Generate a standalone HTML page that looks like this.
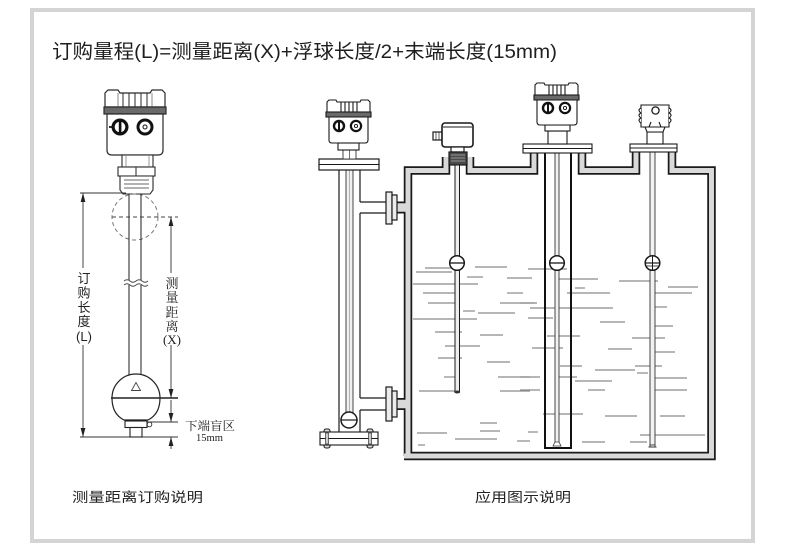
<!DOCTYPE html>
<html><head><meta charset="utf-8">
<style>
html,body{margin:0;padding:0;background:#fff;}
svg{display:block;}
.sans{font-family:"Liberation Sans","Noto Sans CJK SC",sans-serif;}
.serif{font-family:"Liberation Serif","Noto Serif CJK SC",serif;}
</style></head>
<body>
<svg width="790" height="553" viewBox="0 0 790 553" xmlns="http://www.w3.org/2000/svg">
<rect x="0" y="0" width="790" height="553" fill="#fff"/>
<!-- frame -->
<rect x="32" y="10" width="721" height="531" fill="#fff" stroke="#d4d4d4" stroke-width="4"/>

<!-- title -->
<text x="52" y="58" class="sans" font-size="19.5" fill="#1e1e1e" textLength="505" lengthAdjust="spacingAndGlyphs">订购量程(L)=测量距离(X)+浮球长度/2+末端长度(15mm)</text>

<!-- captions -->
<text x="72" y="502" class="sans" font-size="13.5" fill="#222" textLength="131" lengthAdjust="spacingAndGlyphs">测量距离订购说明</text>
<text x="475" y="502" class="sans" font-size="13.5" fill="#222" textLength="96" lengthAdjust="spacingAndGlyphs">应用图示说明</text>

<!-- ================= LEFT DIAGRAM ================= -->
<g stroke="#2a2a2a" fill="none" stroke-width="1">
  <!-- cap -->
  <path d="M105,107 L105,93 L108,90 L118,90 L120,93 L150,93 L152,90 L162,90 L165,93 L165,107 Z" fill="#fff" stroke-width="1.2"/>
  <line x1="123" y1="93" x2="123" y2="107"/>
  <line x1="129" y1="93" x2="129" y2="107"/>
  <line x1="135" y1="93" x2="135" y2="107"/>
  <line x1="141" y1="93" x2="141" y2="107"/>
  <line x1="147" y1="93" x2="147" y2="107"/>
  <line x1="118" y1="93" x2="118" y2="107" stroke="#888"/>
  <line x1="152" y1="93" x2="152" y2="107" stroke="#888"/>
  <!-- band -->
  <rect x="104" y="107" width="62" height="7" fill="#6a6a6a" stroke-width="1.2"/>
  <!-- body -->
  <path d="M107,114 L163,114 L163,150 Q163,155 158,155 L112,155 Q107,155 107,150 Z" fill="#fff" stroke-width="1.2"/>
  <rect x="109" y="126" width="4" height="2" fill="#333" stroke="none"/>
  <!-- knobs -->
  <circle cx="120" cy="127" r="8.5" fill="#111" stroke="none"/>
  <circle cx="120" cy="127" r="5.3" fill="#fff" stroke="none"/>
  <rect x="118.8" y="121.5" width="2.6" height="11" fill="#111" stroke="none"/>
  <circle cx="145" cy="127" r="8.5" fill="#111" stroke="none"/>
  <circle cx="145" cy="127" r="5.5" fill="#fff" stroke="none"/>
  <circle cx="145" cy="127" r="2" stroke="#111" stroke-width="1"/>
  <!-- neck -->
  <rect x="122" y="155" width="31" height="12" fill="#fff" stroke-width="1.1"/>
  <line x1="126" y1="156" x2="126" y2="166" stroke="#999"/>
  <line x1="149" y1="156" x2="149" y2="166" stroke="#999"/>
  <!-- nut -->
  <rect x="118" y="167" width="37" height="9" fill="#fff" stroke-width="1.1"/>
  <line x1="136" y1="167" x2="136" y2="176"/>
  <!-- thread -->
  <path d="M120,176 L153,176 L153,190 L150,194 L123,194 L120,190 Z" fill="#fff" stroke-width="1.1"/>
  <line x1="124" y1="180" x2="149" y2="180" stroke="#666"/>
  <line x1="124" y1="184" x2="149" y2="184" stroke="#666"/>
  <line x1="124" y1="188" x2="149" y2="188" stroke="#666"/>
</g>

<!-- dashed circle -->
<circle cx="135" cy="217" r="23" fill="none" stroke="#777" stroke-width="1" stroke-dasharray="4 3"/>
<line x1="112" y1="217" x2="178" y2="217" stroke="#444" stroke-width="1" stroke-dasharray="4 3"/>

<!-- rod -->
<g stroke="#333" stroke-width="1.1">
  <line x1="129" y1="194" x2="129" y2="376"/>
  <line x1="141" y1="194" x2="141" y2="376"/>
</g>
<rect x="126" y="280" width="18" height="5" fill="#fff"/>
<path d="M124,281 q3,-2.5 6,0 t6,0 t6,0 t6,0" fill="none" stroke="#444" stroke-width="0.9"/>
<path d="M124,285 q3,-2.5 6,0 t6,0 t6,0 t6,0" fill="none" stroke="#444" stroke-width="0.9"/>

<!-- reference lines -->
<g stroke="#333" stroke-width="0.9">
  <line x1="80" y1="193" x2="126" y2="193"/>
  <line x1="83" y1="193" x2="83" y2="437"/>
  <line x1="171" y1="217" x2="171" y2="398"/>
  <line x1="171" y1="400" x2="171" y2="422"/>
  <line x1="171" y1="437" x2="171" y2="449"/>
  <line x1="147" y1="422" x2="178" y2="422"/>
  <line x1="80" y1="437" x2="178" y2="437"/>
</g>
<!-- arrowheads -->
<g fill="#222">
  <polygon points="83,193 80.6,202 85.4,202"/>
  <polygon points="83,437 80.6,428 85.4,428"/>
  <polygon points="171,217 168.6,226 173.4,226"/>
  <polygon points="171,398 168.6,389 173.4,389"/>
  <polygon points="171,422 168.6,413 173.4,413"/>
  <polygon points="171,437 168.6,446 173.4,446"/>
</g>

<!-- vertical labels -->
<rect x="75" y="268" width="17" height="77" fill="#fff"/>
<g class="sans" font-size="13" fill="#222" text-anchor="middle">
  <text x="84" y="283">订</text>
  <text x="84" y="297.5">购</text>
  <text x="84" y="312">长</text>
  <text x="84" y="326">度</text>
  <text x="84" y="341">(L)</text>
</g>
<rect x="163" y="273" width="17" height="72" fill="#fff"/>
<g class="serif" font-size="13" fill="#222" text-anchor="middle">
  <text x="172" y="288">测</text>
  <text x="172" y="302">量</text>
  <text x="172" y="317">距</text>
  <text x="172" y="331">离</text>
  <text x="172" y="344">(X)</text>
</g>

<!-- ball -->
<path d="M112,398 A24,24 0 0 1 160,398 Q160,414 148,420 L124,420 Q112,414 112,398 Z" fill="#fff" stroke="#222" stroke-width="1.2"/>
<line x1="111" y1="398" x2="178" y2="398" stroke="#222" stroke-width="1.6"/>
<polygon points="136,382.5 131.5,390.5 140.5,390.5" fill="none" stroke="#444" stroke-width="0.9"/>
<rect x="125" y="421" width="22" height="6.5" fill="#fff" stroke="#222" stroke-width="1.1"/>
<circle cx="149.5" cy="424.5" r="2.3" fill="#fff" stroke="#333" stroke-width="0.9"/>
<rect x="130" y="427.5" width="12" height="9.5" fill="#fff" stroke="#222" stroke-width="1.1"/>

<text x="185" y="430" class="serif" font-size="12" fill="#222" textLength="50" lengthAdjust="spacingAndGlyphs">下端盲区</text>
<text x="196" y="441" class="serif" font-size="10.5" fill="#222" textLength="27" lengthAdjust="spacingAndGlyphs">15mm</text>

<!-- ================= RIGHT DIAGRAM ================= -->
<!-- liquid lines -->
<g stroke="#8a8a8a" stroke-width="1.2">
  <line x1="425" y1="268" x2="452" y2="268"/><line x1="416" y1="272" x2="452" y2="272"/>
  <line x1="475" y1="267" x2="507" y2="267"/><line x1="467" y1="277" x2="483" y2="277"/>
  <line x1="528" y1="269" x2="567" y2="269"/><line x1="507" y1="278" x2="532" y2="278"/>
  <line x1="413" y1="284" x2="478" y2="284"/><line x1="423" y1="293" x2="460" y2="293"/>
  <line x1="507" y1="293" x2="523" y2="293"/><line x1="428" y1="303" x2="455" y2="303"/>
  <line x1="500" y1="303" x2="535" y2="303"/><line x1="463" y1="311" x2="475" y2="311"/>
  <line x1="478" y1="313" x2="515" y2="313"/><line x1="413" y1="319" x2="477" y2="319"/>
  <line x1="435" y1="332" x2="462" y2="332"/><line x1="480" y1="335" x2="503" y2="335"/>
  <line x1="445" y1="346" x2="480" y2="346"/><line x1="438" y1="358" x2="462" y2="358"/>
  <line x1="487" y1="362" x2="510" y2="362"/><line x1="444" y1="377" x2="460" y2="377"/>
  <line x1="498" y1="377" x2="530" y2="377"/><line x1="419" y1="391" x2="457" y2="391"/>
  <line x1="500" y1="391" x2="530" y2="391"/><line x1="480" y1="423" x2="497" y2="423"/>
  <line x1="480" y1="431" x2="500" y2="431"/><line x1="417" y1="433" x2="447" y2="433"/>
  <line x1="455" y1="439" x2="497" y2="439"/><line x1="517" y1="441" x2="530" y2="441"/>
  <line x1="418" y1="445" x2="425" y2="445"/>
  <line x1="559" y1="279" x2="598" y2="279"/><line x1="575" y1="288" x2="585" y2="288"/>
  <line x1="567" y1="293" x2="610" y2="293"/><line x1="619" y1="281" x2="658" y2="281"/>
  <line x1="668" y1="287" x2="698" y2="287"/><line x1="650" y1="293" x2="692" y2="293"/>
  <line x1="520" y1="303" x2="537" y2="303"/><line x1="530" y1="308" x2="613" y2="308"/>
  <line x1="653" y1="307" x2="667" y2="307"/><line x1="528" y1="318" x2="553" y2="318"/>
  <line x1="600" y1="322" x2="625" y2="322"/><line x1="650" y1="326" x2="673" y2="326"/>
  <line x1="547" y1="336" x2="580" y2="336"/><line x1="632" y1="338" x2="665" y2="338"/>
  <line x1="532" y1="348" x2="563" y2="348"/><line x1="608" y1="349" x2="632" y2="349"/>
  <line x1="650" y1="352" x2="675" y2="352"/><line x1="560" y1="366" x2="582" y2="366"/>
  <line x1="595" y1="370" x2="635" y2="370"/><line x1="635" y1="366" x2="662" y2="366"/>
  <line x1="637" y1="373" x2="648" y2="373"/><line x1="520" y1="377" x2="540" y2="377"/>
  <line x1="558" y1="377" x2="577" y2="377"/><line x1="575" y1="381" x2="612" y2="381"/>
  <line x1="652" y1="378" x2="687" y2="378"/><line x1="520" y1="390" x2="540" y2="390"/>
  <line x1="588" y1="390" x2="605" y2="390"/><line x1="652" y1="390" x2="687" y2="390"/>
  <line x1="543" y1="414" x2="583" y2="414"/><line x1="605" y1="416" x2="637" y2="416"/>
  <line x1="660" y1="416" x2="685" y2="416"/><line x1="528" y1="432" x2="538" y2="432"/>
  <line x1="640" y1="435" x2="705" y2="435"/><line x1="582" y1="442" x2="605" y2="442"/>
  <line x1="630" y1="442" x2="647" y2="442"/>
</g>

<!-- tank wall: black outline then gray interior -->
<g fill="none" stroke-linejoin="miter" stroke-linecap="butt">
  <path d="M408,456 L408,170.5 L446,170.5 L446,157" stroke="#1a1a1a" stroke-width="8.5"/>
  <path d="M470,157 L470,170.5 L534,170.5 L534,152" stroke="#1a1a1a" stroke-width="8.5"/>
  <path d="M582,152 L582,170.5 L636,170.5 L636,152" stroke="#1a1a1a" stroke-width="8.5"/>
  <path d="M672,152 L672,170.5 L711.5,170.5 L711.5,456 L404,456" stroke="#1a1a1a" stroke-width="8.5"/>
  <line x1="396" y1="207.5" x2="410" y2="207.5" stroke="#1a1a1a" stroke-width="12"/>
  <line x1="396" y1="404" x2="410" y2="404" stroke="#1a1a1a" stroke-width="12"/>

  <path d="M408,456 L408,170.5 L446,170.5 L446,157" stroke="#d9d9d9" stroke-width="5"/>
  <path d="M470,157 L470,170.5 L534,170.5 L534,152" stroke="#d9d9d9" stroke-width="5"/>
  <path d="M582,152 L582,170.5 L636,170.5 L636,152" stroke="#d9d9d9" stroke-width="5"/>
  <path d="M672,152 L672,170.5 L711.5,170.5 L711.5,456 L404,456" stroke="#d9d9d9" stroke-width="5"/>
  <line x1="396" y1="207.5" x2="409" y2="207.5" stroke="#d9d9d9" stroke-width="8.5"/>
  <line x1="396" y1="404" x2="409" y2="404" stroke="#d9d9d9" stroke-width="8.5"/>
</g>

<!-- bypass chamber -->
<g stroke="#1a1a1a" stroke-width="1.2" fill="#fff">
  <!-- pipes to flange -->
  <path d="M360,202 L386,202 M360,213 L386,213" fill="none"/>
  <path d="M360,398 L386,398 M360,410 L386,410" fill="none"/>
  <!-- tube -->
  <line x1="339" y1="170" x2="339" y2="432"/>
  <path d="M360,170 L360,202 M360,213 L360,398 M360,410 L360,432" fill="none"/>
  <!-- flanges at connections -->
  <rect x="386" y="192" width="6" height="32" fill="#ececec"/>
  <rect x="392" y="195" width="5" height="25" fill="#ececec"/>
  <rect x="386" y="387" width="6" height="34" fill="#ececec"/>
  <rect x="392" y="391" width="5" height="26" fill="#ececec"/>
</g>
<!-- inner rod -->
<rect x="346" y="150" width="7" height="263" fill="#f0f0f0" stroke="#333" stroke-width="0.9"/>
<line x1="349.5" y1="150" x2="349.5" y2="412" stroke="#999" stroke-width="0.7"/>
<circle cx="349" cy="420" r="8" fill="#fff" stroke="#1a1a1a" stroke-width="1.5"/>
<line x1="341" y1="420" x2="357" y2="420" stroke="#1a1a1a" stroke-width="1.2"/>
<!-- bottom flange -->
<g stroke="#1a1a1a" stroke-width="1.1">
  <rect x="324" y="429" width="6" height="19" rx="2" fill="#ddd"/>
  <rect x="367" y="429" width="6" height="19" rx="2" fill="#ddd"/>
  <rect x="320" y="432" width="58" height="13" fill="#fff"/>
  <line x1="320" y1="438.5" x2="378" y2="438.5"/>
  <rect x="325.5" y="433" width="3" height="11" fill="#ccc" stroke-width="0.6"/>
  <rect x="368.5" y="433" width="3" height="11" fill="#ccc" stroke-width="0.6"/>
</g>
<!-- top flange -->
<rect x="319" y="159" width="60" height="11" fill="#fff" stroke="#1a1a1a" stroke-width="1.2"/>
<line x1="319" y1="164.5" x2="379" y2="164.5" stroke="#1a1a1a" stroke-width="1"/>
<rect x="343" y="150" width="13" height="9" fill="#fff" stroke="#333" stroke-width="0.9"/>
<line x1="349.5" y1="150" x2="349.5" y2="159" stroke="#333" stroke-width="0.7"/>

<!-- instrument 1 head -->
<g stroke="#1a1a1a" stroke-width="1.1">
  <path d="M327,112 L327,102 L329,100 L336,100 L337,102 L360,102 L361,100 L368,100 L370,102 L370,112 Z" fill="#fff"/>
  <line x1="341" y1="102" x2="341" y2="112"/><line x1="345" y1="102" x2="345" y2="112"/>
  <line x1="349" y1="102" x2="349" y2="112"/><line x1="353" y1="102" x2="353" y2="112"/>
  <line x1="357" y1="102" x2="357" y2="112"/>
  <rect x="326" y="112" width="45" height="5" fill="#6a6a6a"/>
  <path d="M329,117 L368,117 L368,140 Q368,143 365,143 L332,143 Q329,143 329,140 Z" fill="#fff"/>
  <rect x="338" y="143" width="21" height="7" fill="#fff"/>
</g>
<circle cx="339" cy="126" r="6.2" fill="#111"/><circle cx="339" cy="126" r="3.8" fill="#fff"/>
<rect x="338" y="122" width="2" height="8" fill="#111"/>
<circle cx="356" cy="126" r="6.2" fill="#111"/><circle cx="356" cy="126" r="4" fill="#fff"/>
<circle cx="356" cy="126" r="1.6" fill="none" stroke="#111" stroke-width="0.9"/>

<!-- instrument 2 float switch -->
<g stroke="#1a1a1a" stroke-width="1.2">
  <rect x="433" y="132" width="9" height="8" fill="#fff"/>
  <line x1="436" y1="132" x2="436" y2="140" stroke-width="0.7"/>
  <line x1="439" y1="132" x2="439" y2="140" stroke-width="0.7"/>
  <rect x="442" y="123" width="31" height="24" rx="3" fill="#fff" stroke-width="1.6"/>
  <line x1="443" y1="127" x2="472" y2="127" stroke-width="1"/>
  <rect x="451" y="147" width="13" height="5" fill="#fff"/>
  <rect x="449" y="152" width="18" height="13" fill="#4a4a4a"/>
</g>
<g stroke="#aaa" stroke-width="0.8">
  <line x1="451" y1="155" x2="465" y2="155"/><line x1="451" y1="158" x2="465" y2="158"/>
  <line x1="451" y1="161" x2="465" y2="161"/>
</g>
<rect x="455" y="165" width="4.5" height="227" fill="#eee" stroke="#1a1a1a" stroke-width="1"/>
<ellipse cx="457.2" cy="392" rx="3" ry="1.5" fill="#333"/>
<circle cx="457" cy="263" r="7.3" fill="#fff" stroke="#1a1a1a" stroke-width="1.5"/>
<line x1="450" y1="263" x2="464" y2="263" stroke="#1a1a1a" stroke-width="1.3"/>

<!-- instrument 3 coax -->
<line x1="545" y1="153" x2="545" y2="448" stroke="#111" stroke-width="2"/>
<line x1="571" y1="153" x2="571" y2="448" stroke="#111" stroke-width="2"/>
<line x1="544" y1="448" x2="572" y2="448" stroke="#111" stroke-width="2"/>
<rect x="555" y="153" width="4" height="290" fill="#f2f2f2" stroke="#333" stroke-width="0.9"/>
<path d="M553,446 L561,446 L559,442 L555,442 Z" fill="#fff" stroke="#333" stroke-width="0.8"/>
<circle cx="557" cy="263" r="7.3" fill="#fff" stroke="#1a1a1a" stroke-width="1.5"/>
<line x1="550" y1="263" x2="564" y2="263" stroke="#1a1a1a" stroke-width="1.3"/>
<g stroke="#1a1a1a" stroke-width="1.1">
  <rect x="523" y="144" width="69" height="9" fill="#fff"/>
  <line x1="523" y1="148.5" x2="592" y2="148.5" stroke-width="0.9"/>
  <rect x="548" y="131" width="19" height="13" fill="#fff"/>
  <rect x="545" y="125" width="25" height="6" fill="#fff"/>
  <path d="M535,95 L535,85 L537,83 L544,83 L545,85 L568,85 L569,83 L576,83 L578,85 L578,95 Z" fill="#fff"/>
  <line x1="549" y1="85" x2="549" y2="95"/><line x1="553" y1="85" x2="553" y2="95"/>
  <line x1="557" y1="85" x2="557" y2="95"/><line x1="561" y1="85" x2="561" y2="95"/>
  <line x1="565" y1="85" x2="565" y2="95"/>
  <rect x="534" y="95" width="45" height="5" fill="#6a6a6a"/>
  <path d="M537,100 L577,100 L577,122 Q577,125 574,125 L540,125 Q537,125 537,122 Z" fill="#fff"/>
</g>
<circle cx="548" cy="108" r="6.2" fill="#111"/><circle cx="548" cy="108" r="3.8" fill="#fff"/>
<rect x="547" y="104" width="2" height="8" fill="#111"/>
<circle cx="565" cy="108" r="6.2" fill="#111"/><circle cx="565" cy="108" r="4" fill="#fff"/>
<circle cx="565" cy="108" r="1.6" fill="none" stroke="#111" stroke-width="0.9"/>

<!-- instrument 4 transmitter -->
<rect x="650" y="152" width="5" height="293" fill="#f2f2f2" stroke="#333" stroke-width="0.9"/>
<path d="M648.5,447 L656.5,447 M650,444 L650,447 M655,444 L655,447" stroke="#333" stroke-width="0.9" fill="none"/>
<circle cx="652.5" cy="263" r="7.3" fill="#fff" stroke="#1a1a1a" stroke-width="1.5"/>
<line x1="645.5" y1="263" x2="659.5" y2="263" stroke="#1a1a1a" stroke-width="1.2"/>
<line x1="652.5" y1="256" x2="652.5" y2="270" stroke="#1a1a1a" stroke-width="1"/>
<line x1="646.5" y1="266" x2="658.5" y2="266" stroke="#1a1a1a" stroke-width="0.8"/>
<g stroke="#1a1a1a" stroke-width="1.1">
  <rect x="630" y="144" width="47" height="8" fill="#fff"/>
  <line x1="630" y1="148" x2="677" y2="148" stroke-width="0.9"/>
  <rect x="647" y="132" width="16" height="12" fill="#fff"/>
  <path d="M645,127 L665,127 L663,132 L647,132 Z" fill="#fff"/>
  <path d="M641,105 L669,105 L669,127 L641,127 Z" fill="#fff"/>
  <path d="M641,108 q-4,2 0,5 q-4,2 0,5 q-4,2 0,5" fill="#fff"/>
  <path d="M669,108 q4,2 0,5 q4,2 0,5 q4,2 0,5" fill="#fff"/>
  <circle cx="655.5" cy="110.5" r="3.6" fill="#fff" stroke-width="1.3"/>
  <line x1="649" y1="127" x2="651" y2="122"/><line x1="661" y1="127" x2="659" y2="122"/>
</g>
</svg>
</body></html>
